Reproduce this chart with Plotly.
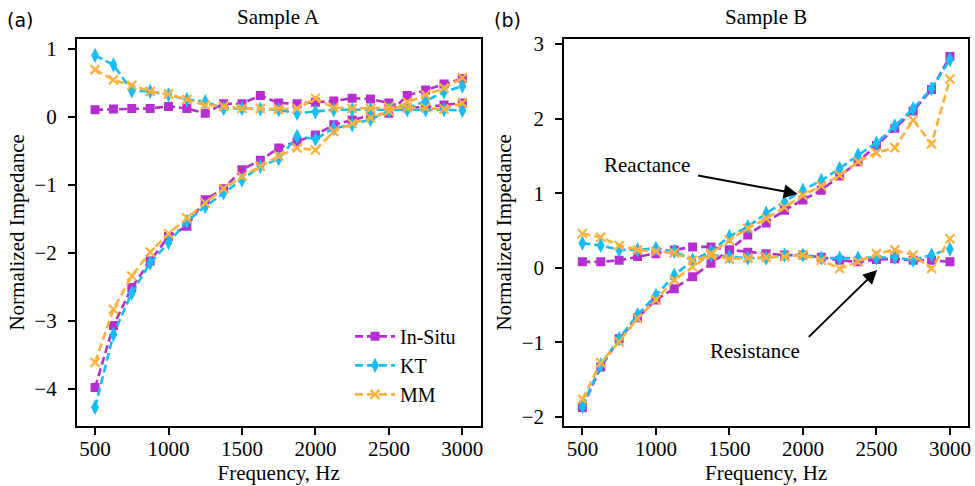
import plotly.graph_objects as go

freq = [500 + 125 * i for i in range(21)]

# Sample A
a_res_insitu = [0.10, 0.11, 0.12, 0.12, 0.15, 0.12, 0.05, 0.19, 0.19, 0.31, 0.20, 0.19, 0.21, 0.23, 0.27, 0.26, 0.20, 0.13, 0.14, 0.17, 0.20]
a_res_kt = [0.90, 0.76, 0.38, 0.37, 0.32, 0.25, 0.22, 0.12, 0.12, 0.11, 0.10, 0.05, 0.07, 0.10, 0.10, 0.10, 0.11, 0.10, 0.10, 0.10, 0.09]
a_res_mm = [0.69, 0.54, 0.46, 0.37, 0.33, 0.25, 0.17, 0.15, 0.12, 0.12, 0.11, 0.12, 0.27, 0.13, 0.12, 0.12, 0.14, 0.13, 0.13, 0.11, 0.20]
a_rea_insitu = [-3.98, -3.07, -2.51, -2.12, -1.76, -1.61, -1.22, -1.06, -0.78, -0.64, -0.46, -0.37, -0.27, -0.12, -0.05, 0.02, 0.05, 0.31, 0.39, 0.48, 0.56]
a_rea_kt = [-4.27, -3.20, -2.59, -2.15, -1.85, -1.54, -1.32, -1.12, -0.93, -0.73, -0.62, -0.29, -0.33, -0.17, -0.12, -0.04, 0.08, 0.12, 0.23, 0.36, 0.45]
a_rea_mm = [-3.61, -2.83, -2.34, -1.99, -1.72, -1.49, -1.27, -1.06, -0.88, -0.73, -0.58, -0.46, -0.49, -0.22, -0.10, -0.02, 0.08, 0.21, 0.32, 0.42, 0.57]

# Sample B
b_res_insitu = [0.08, 0.08, 0.10, 0.15, 0.19, 0.24, 0.28, 0.28, 0.24, 0.21, 0.19, 0.17, 0.17, 0.14, 0.10, 0.08, 0.11, 0.12, 0.10, 0.10, 0.08]
b_res_kt = [0.33, 0.30, 0.24, 0.24, 0.26, 0.22, 0.10, 0.17, 0.15, 0.13, 0.13, 0.17, 0.17, 0.13, 0.13, 0.13, 0.13, 0.14, 0.10, 0.17, 0.25]
b_res_mm = [0.46, 0.41, 0.30, 0.24, 0.22, 0.20, 0.10, 0.17, 0.12, 0.13, 0.14, 0.15, 0.17, 0.10, -0.01, 0.08, 0.19, 0.24, 0.17, -0.01, 0.39]
b_rea_insitu = [-1.87, -1.33, -0.95, -0.67, -0.43, -0.28, -0.12, 0.06, 0.24, 0.44, 0.60, 0.77, 0.91, 1.04, 1.23, 1.42, 1.64, 1.87, 2.10, 2.39, 2.83]
b_rea_kt = [-1.86, -1.30, -0.95, -0.63, -0.37, -0.10, 0.10, 0.22, 0.42, 0.55, 0.73, 0.88, 1.04, 1.17, 1.33, 1.51, 1.67, 1.90, 2.13, 2.40, 2.79]
b_rea_mm = [-1.76, -1.27, -0.99, -0.68, -0.43, -0.16, 0.01, 0.19, 0.37, 0.53, 0.66, 0.81, 0.97, 1.10, 1.24, 1.42, 1.54, 1.61, 1.98, 1.66, 2.53]

series_names = ["In-Situ", "KT", "MM"]
colors = ["#B62ECF", "#14BDF5", "#FFB13D"]
FONT = "Liberation Serif"
FS = 21

fig = go.Figure()

def marker_for(k):
    if k == 0:
        return dict(symbol="square", size=9, color=colors[0])
    if k == 1:
        return dict(symbol="diamond-tall", size=11, color=colors[1])
    return dict(symbol="x-thin", size=9, color=colors[2], line=dict(width=2.2, color=colors[2]))

panels = [
    ("x", "y", [a_res_insitu, a_res_kt, a_res_mm], [a_rea_insitu, a_rea_kt, a_rea_mm], True),
    ("x2", "y2", [b_res_insitu, b_res_kt, b_res_mm], [b_rea_insitu, b_rea_kt, b_rea_mm], False),
]
for xa, ya, res, rea, show in panels:
    for k in range(3):
        for j, data in enumerate([res[k], rea[k]]):
            fig.add_trace(go.Scatter(
                x=freq, y=data, xaxis=xa, yaxis=ya, mode="lines+markers",
                name=series_names[k], legendgroup=series_names[k],
                showlegend=(show and j == 0),
                line=dict(color=colors[k], width=2.6, dash="8px,4px"),
                marker=marker_for(k),
            ))

axis_common = dict(
    showline=True, linecolor="black", linewidth=1.6, mirror=True,
    ticks="outside", ticklen=7, tickwidth=1.6, tickcolor="black",
    showgrid=False, zeroline=False, automargin=False,
    tickfont=dict(family=FONT, size=FS, color="black"),
    title_font=dict(family=FONT, size=FS, color="black"),
)
xdom = dict(dtick=500, tick0=0, range=[375, 3125], ticklabelstandoff=-4)
ydomain = [0.12407, 0.91975]
fig.update_layout(
    width=975, height=486,
    margin=dict(l=0, r=0, t=0, b=0),
    paper_bgcolor="white", plot_bgcolor="white",
    font=dict(family=FONT, size=FS, color="black"),
    xaxis=dict(domain=[0.07867, 0.49303], anchor="y", title=dict(text="Frequency, Hz", standoff=2), **xdom, **axis_common),
    yaxis=dict(domain=ydomain, anchor="x", range=[-4.54, 1.14], dtick=1, title=dict(text="Normalized Impedance", standoff=4), ticklabelstandoff=7, **axis_common),
    xaxis2=dict(domain=[0.57846, 0.99313], anchor="y2", title=dict(text="Frequency, Hz", standoff=2), **xdom, **axis_common),
    yaxis2=dict(domain=ydomain, anchor="x2", range=[-2.115, 3.065], dtick=1, title=dict(text="Normalized Impedance", standoff=4), ticklabelstandoff=7, **axis_common),
    legend=dict(x=0.359, y=0.348, xanchor="left", yanchor="top", bgcolor="rgba(0,0,0,0)",
                font=dict(family=FONT, size=20, color="black"), itemwidth=40, tracegroupgap=0),
    showlegend=True,
)

# Panel titles and labels
fig.add_annotation(text="Sample A", xref="paper", yref="paper", x=(0.07867 + 0.49303) / 2, y=0.936,
                   xanchor="center", yanchor="bottom", showarrow=False,
                   font=dict(family=FONT, size=FS, color="black"))
fig.add_annotation(text="Sample B", xref="paper", yref="paper", x=(0.57846 + 0.99313) / 2, y=0.936,
                   xanchor="center", yanchor="bottom", showarrow=False,
                   font=dict(family=FONT, size=FS, color="black"))
fig.add_annotation(text="(a)", xref="paper", yref="paper", x=20 / 975, y=1 - 20 / 486,
                   xanchor="center", yanchor="middle", showarrow=False,
                   font=dict(family="DejaVu Sans", size=19, color="black"))
fig.add_annotation(text="(b)", xref="paper", yref="paper", x=507 / 975, y=1 - 20 / 486,
                   xanchor="center", yanchor="middle", showarrow=False,
                   font=dict(family="DejaVu Sans", size=19, color="black"))

# Arrow annotations in panel B
fig.add_annotation(text="Reactance", xref="x2", yref="y2", x=937, y=1.375, showarrow=False,
                   font=dict(family=FONT, size=FS, color="black"))
fig.add_annotation(text="", xref="x2", yref="y2", x=1965, y=0.99, axref="x2", ayref="y2",
                   ax=1277, ay=1.24, showarrow=True, arrowhead=2, arrowsize=1.4, arrowwidth=2, arrowcolor="black")
fig.add_annotation(text="Resistance", xref="x2", yref="y2", x=1676, y=-1.12, showarrow=False,
                   font=dict(family=FONT, size=FS, color="black"))
fig.add_annotation(text="", xref="x2", yref="y2", x=2505, y=-0.03, axref="x2", ayref="y2",
                   ax=2030, ay=-0.945, showarrow=True, arrowhead=2, arrowsize=1.4, arrowwidth=2, arrowcolor="black")

fig.write_html("out.html")
